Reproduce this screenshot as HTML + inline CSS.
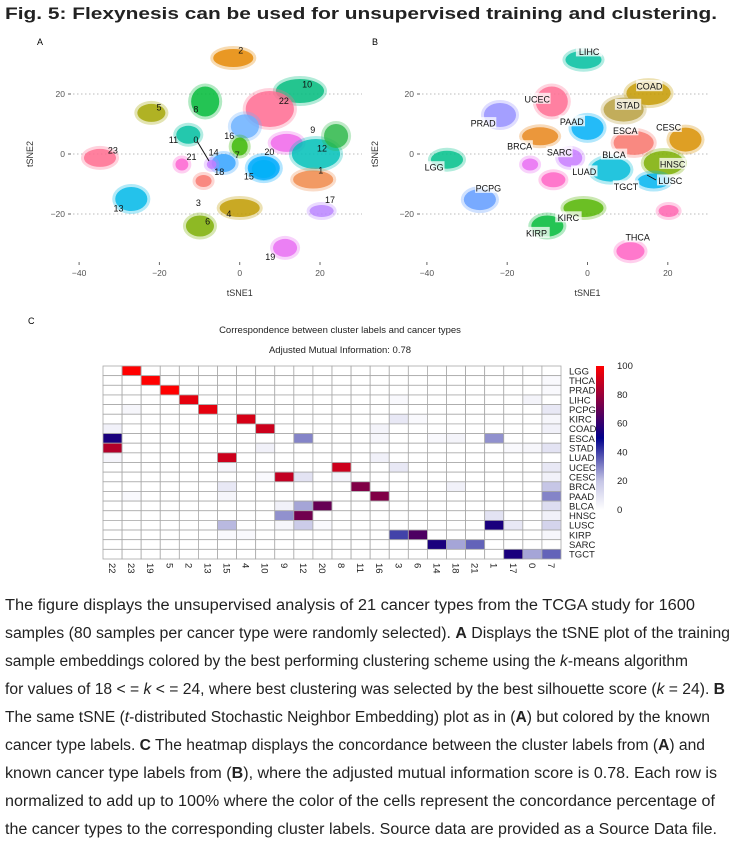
<!DOCTYPE html>
<html><head><meta charset="utf-8"><style>
html,body{margin:0;padding:0;background:#fff;width:734px;height:848px;overflow:hidden}
svg{display:block;font-family:"Liberation Sans",sans-serif}
</style></head><body>
<svg id="fig" width="734" height="848" viewBox="0 0 734 848" xmlns="http://www.w3.org/2000/svg">
<text x="5" y="19" font-size="17" font-weight="bold" fill="#222" textLength="712" lengthAdjust="spacingAndGlyphs">Fig. 5: Flexynesis can be used for unsupervised training and clustering.</text>
<text x="37" y="45" font-size="9">A</text>
<text x="372" y="45" font-size="9">B</text>
<text x="28" y="324" font-size="9">C</text>
<g id="pa"></g>
<g id="pb"></g>
<text x="340" y="333" font-size="9.5" text-anchor="middle" fill="#222">Correspondence between cluster labels and cancer types</text>
<text x="340" y="353" font-size="9.5" text-anchor="middle" fill="#222">Adjusted Mutual Information: 0.78</text>
<g id="hm"></g>
<defs><linearGradient id="cb" x1="0" y1="1" x2="0" y2="0">
<stop offset="0" stop-color="#ffffff"/><stop offset="0.2" stop-color="#c6c6e6"/><stop offset="0.5" stop-color="#00008b"/><stop offset="0.75" stop-color="#800046"/><stop offset="1" stop-color="#ff0000"/></linearGradient></defs>
<g font-size="15.5" fill="#222">
<text x="5" y="610" textLength="690" lengthAdjust="spacingAndGlyphs">The figure displays the unsupervised analysis of 21 cancer types from the TCGA study for 1600</text>
<text x="5" y="638" textLength="725" lengthAdjust="spacingAndGlyphs">samples (80 samples per cancer type were randomly selected). <tspan font-weight="bold">A</tspan> Displays the tSNE plot of the training</text>
<text x="5" y="666" textLength="683" lengthAdjust="spacingAndGlyphs">sample embeddings colored by the best performing clustering scheme using the <tspan font-style="italic">k</tspan>-means algorithm</text>
<text x="5" y="694" textLength="720" lengthAdjust="spacingAndGlyphs">for values of 18 &lt; = <tspan font-style="italic">k</tspan> &lt; = 24, where best clustering was selected by the best silhouette score (<tspan font-style="italic">k</tspan> = 24). <tspan font-weight="bold">B</tspan></text>
<text x="5" y="722" textLength="705" lengthAdjust="spacingAndGlyphs">The same tSNE (<tspan font-style="italic">t</tspan>-distributed Stochastic Neighbor Embedding) plot as in (<tspan font-weight="bold">A</tspan>) but colored by the known</text>
<text x="5" y="750" textLength="700" lengthAdjust="spacingAndGlyphs">cancer type labels. <tspan font-weight="bold">C</tspan> The heatmap displays the concordance between the cluster labels from (<tspan font-weight="bold">A</tspan>) and</text>
<text x="5" y="778" textLength="712" lengthAdjust="spacingAndGlyphs">known cancer type labels from (<tspan font-weight="bold">B</tspan>), where the adjusted mutual information score is 0.78. Each row is</text>
<text x="5" y="806" textLength="710" lengthAdjust="spacingAndGlyphs">normalized to add up to 100% where the color of the cells represent the concordance percentage of</text>
<text x="5" y="834" textLength="712" lengthAdjust="spacingAndGlyphs">the cancer types to the corresponding cluster labels. Source data are provided as a Source Data file.</text>
</g>
</svg>
<script>
const NS="http://www.w3.org/2000/svg";
function mk(tag,attrs,parent){const e=document.createElementNS(NS,tag);for(const k in attrs)e.setAttribute(k,attrs[k]);parent.appendChild(e);return e;}

// ---- Panel A data: cluster centers (tSNE units) ----
const aIds=["2","10","22","8","5","16","11","9","12","12b","7","20","14","1","23","21","18","13","17","4","6","19","0","15"];
const aCx=[-1.6,15,7.5,-8.6,-22,1.3,-12.8,11.7,19,24,0,6,-4,18.3,-34.8,-14.4,-7,-27,20.4,0,-9.9,11.3,-9,6];
const aCy=[32,21,15,17.5,13.7,9.2,6.4,3.7,0,6,2.5,-4.7,-3,-8.5,-1.3,-3.5,-3.5,-15,-19,-18,-24,-31.3,-9,-5];
const aRx=[5,6,6,3.5,3.5,3.5,3,4,6,3,2,4,3,5,4,1.6,1.2,4,3,5,3.5,3,2,3];
const aRy=[3,4,6,5,3,4,3,3,5,4,3,4,3,3,3,2,1.5,4,2,3,3.5,3,2,3];
const aCol=["#E58700","#00BC7D","#FF6C91","#00BA38","#A3A500","#6BB1FF","#00BFA0","#F066EA","#00C0B8","#2DB84A","#39B600","#00A9FF","#35A2FF","#F08A4B","#FF6B8E","#FD61D1","#C77CFF","#00B8E7","#B983FF","#C09B00","#7CAE00","#E76BF3","#F8766D","#00B0F6"];
const aLab=["2","10","22","8","5","16","11","0","9","12","14","7","20","21","18","15","1","23","17","13","3","4","6","19"];
const aLx=[0.25,16.8,11,-10.9,-20.1,-2.6,-16.5,-10.9,18.2,20.5,-6.5,-0.6,7.4,-12,-5.1,2.3,20.2,-31.6,22.5,-30.2,-10.3,-2.7,-8,7.6];
const aLy=[34.6,23.4,17.8,15,15.6,6.1,4.8,4.8,8.1,2,0.6,-0.2,0.9,-0.8,-5.8,-7.4,-5.4,1.4,-15.2,-18,-16.1,-19.9,-22.4,-34.1];

// ---- Panel B data ----
const bIds=["LIHC","COAD","STAD","UCEC","PRAD","PAAD","BRCA","ESCA","CESC","HNSC","SARC","LUAD","pink","BLCA","LUSC","LGG","PCPG","KIRC","KIRP","THCA","TGCTp"];
const bCx=[-1,15.2,9,-8.9,-21.8,0,-11.8,11.5,24.4,19,-4.3,-14.3,-8.5,5.7,16.5,-35,-26.8,-1,-10,10.7,20.2];
const bCy=[31.4,20.3,14.8,17.5,13,8.7,5.9,3.7,4.8,-3,-1.3,-3.5,-8.6,-5.2,-9,-1.9,-15.2,-18,-24,-32.4,-19];
const bRx=[4.5,5.5,5,4,4,4,4.5,5,4,5,3,2,3,5,4,4,4,5,4,3.5,2.5];
const bRy=[3,4,4,5,4,4,3,4,4,4,3,2,2.5,4,2.5,3,3.5,3,3.5,3,2];
const bCol=["#00BFA0","#C49A00","#B8A040","#FF6C91","#9590FF","#00B0F6","#E7861B","#F8766D","#D89000","#7CAE00","#C77CFF","#E76BF3","#FF61C3","#00BCD8","#00B4F0","#00C08B","#619CFF","#53B400","#00BA38","#FF61C3","#FF64B0"];
const bLab=["LIHC","COAD","STAD","UCEC","PRAD","PAAD","ESCA","CESC","BRCA","SARC","BLCA","HNSC","LUAD","LUSC","TGCT","LGG","PCPG","KIRC","KIRP","THCA"];
const bLx=[0.4,15.4,10.1,-12.5,-26,-3.9,9.4,20.2,-16.9,-7,6.6,21.2,-0.8,20.6,9.6,-38.2,-24.7,-4.75,-12.7,12.5];
const bLy=[34.2,22.6,16.4,18.4,10.3,10.9,7.9,9,2.6,0.6,-0.2,-3.3,-5.8,-8.8,-10.8,-4.4,-11.3,-21.1,-26.3,-27.6];

const xTicks=[-40,-20,0,20];
const yTicks=[20,0,-20];

function scatter(g,x0,gl,gr,ylabX,ids,cx,cy,rx,ry,col,lab,lx,ly,boxed){
  const sx=v=>x0+v*4.015, sy=v=>154-v*3.0;
  yTicks.forEach(t=>{
    const l=mk("line",{x1:gl,x2:gr,y1:sy(t),y2:sy(t),stroke:"#bbb","stroke-dasharray":"1.5,2.5","stroke-width":1},g);
    
    
    const tk=mk("line",{x1:gl-5,x2:gl-2,y1:sy(t),y2:sy(t),stroke:"#666"},g);
    
    
    const tx=mk("text",{x:gl-8,y:sy(t)+3,"font-size":8.5,"text-anchor":"end",fill:"#555"},g);
    tx.textContent=t===0?"0":(t<0?"\u2212"+(-t):t);
    
    
  });
  xTicks.forEach(t=>{
    const tk=mk("line",{x1:sx(t),x2:sx(t),y1:262,y2:265,stroke:"#666"},g);
    
    
    const tx=mk("text",{x:sx(t),y:276,"font-size":8.5,"text-anchor":"middle",fill:"#555"},g);
    tx.textContent=t<0?"\u2212"+(-t):t;
    
    
  });
  const xl=mk("text",{x:sx(0),y:296,"font-size":9,"text-anchor":"middle",fill:"#333"},g);
  xl.textContent="tSNE1";
  
  
  const yl=mk("text",{x:ylabX,y:154,"font-size":9,"text-anchor":"middle",fill:"#333",transform:`rotate(-90 ${ylabX} 154)`},g);
  yl.textContent="tSNE2";
  
  
  ids.forEach((id,i)=>{
    const h=mk("ellipse",{cx:sx(cx[i]),cy:sy(cy[i]),rx:rx[i]*4.015+3,ry:ry[i]*3+3,fill:col[i],opacity:0.3},g);
    
    
    const e=mk("ellipse",{cx:sx(cx[i]),cy:sy(cy[i]),rx:rx[i]*4.015,ry:ry[i]*3,fill:col[i],opacity:0.8},g);
    
    
  });
  lab.forEach((s,i)=>{
    if(boxed){
      const w=s.length*5.6+4;
      const r=mk("rect",{x:sx(lx[i])-w/2,y:sy(ly[i])-6,width:w,height:11,fill:"#fff",opacity:0.75},g);
      
      
    }
    const t=mk("text",{x:sx(lx[i]),y:sy(ly[i])+3.5,"font-size":9,"text-anchor":"middle",fill:"#111"},g);
    t.textContent=s;
    
    
  });
}
scatter(document.getElementById("pa"),239.7,73,362,33,aIds,aCx,aCy,aRx,aRy,aCol,aLab,aLx,aLy,false);
scatter(document.getElementById("pb"),587.5,422,710,378,bIds,bCx,bCy,bRx,bRy,bCol,bLab,bLx,bLy,true);
// connector lines
(function(){const g=document.getElementById("pa");const l=mk("line",{x1:197,y1:141,x2:209,y2:161,stroke:"#111","stroke-width":1},g);
const g2=document.getElementById("pb");const l2=mk("line",{x1:647,y1:175,x2:656,y2:180,stroke:"#111","stroke-width":1},g2);})();

// ---- Heatmap data ----
const hmCols=["22","23","19","5","2","13","15","4","10","9","12","20","8","11","16","3","6","14","18","21","1","17","0","7"];
const hmRows=["LGG","THCA","PRAD","LIHC","PCPG","KIRC","COAD","ESCA","STAD","LUAD","UCEC","CESC","BRCA","PAAD","BLCA","HNSC","LUSC","KIRP","SARC","TGCT"];
const hmEntries={
 LGG:{"23":100},
 THCA:{"19":100,"7":2},
 PRAD:{"5":100,"7":2},
 LIHC:{"2":95,"3":2,"0":4},
 PCPG:{"13":95,"23":3,"7":8},
 KIRC:{"4":92,"3":8,"6":2,"7":3},
 COAD:{"10":90,"22":5,"16":4,"7":5},
 ESCA:{"22":55,"12":30,"1":28,"16":3,"18":4,"14":2},
 STAD:{"22":85,"10":5,"7":10,"17":2,"0":3},
 LUAD:{"15":90,"22":4,"16":5},
 UCEC:{"8":90,"3":8,"15":3,"7":8},
 CESC:{"9":88,"12":10,"8":4,"7":5,"10":2},
 BRCA:{"11":75,"15":8,"7":20,"18":5},
 PAAD:{"16":75,"7":30,"23":2,"15":3},
 BLCA:{"20":70,"12":25,"9":5,"7":12},
 HNSC:{"12":72,"9":28,"1":10,"7":5},
 LUSC:{"1":55,"15":22,"12":18,"17":8,"7":15,"9":3,"20":2},
 KIRP:{"3":40,"6":65,"7":3,"15":2,"4":2},
 SARC:{"14":55,"18":25,"21":35},
 TGCT:{"17":55,"0":25,"7":35}
};
const cbTicks=[100,80,60,40,20,0];

function colorOf(v){
  const stops=[[0,[255,255,255]],[20,[198,198,230]],[50,[0,0,139]],[75,[128,0,70]],[100,[255,0,0]]];
  for(let i=1;i<stops.length;i++){if(v<=stops[i][0]){const a=stops[i-1],b=stops[i];const t=(v-a[0])/(b[0]-a[0]);return "rgb("+a[1].map((c,k)=>Math.round(c+(b[1][k]-c)*t)).join(",")+")";}}
  return "rgb(255,0,0)";
}
(function(){
  const g=document.getElementById("hm");
  const X0=103,Y0=366,W=458,H=193;
  const cw=W/hmCols.length, rh=H/hmRows.length;
  hmRows.forEach((r,ri)=>{
    hmCols.forEach((c,ci)=>{
      const v=(hmEntries[r]&&hmEntries[r][c])||0;
      const rc=mk("rect",{x:X0+ci*cw,y:Y0+ri*rh,width:cw,height:rh,fill:colorOf(v),stroke:"#a8a8a8","stroke-width":0.8},g);
      
      
    });
    const t=mk("text",{x:X0+W+8,y:Y0+ri*rh+rh/2+3.5,"font-size":9.5,fill:"#222"},g);
    t.textContent=r;
    
    
  });
  hmCols.forEach((c,ci)=>{
    const x=X0+ci*cw+cw/2-3.5, y=Y0+H+4;
    const t=mk("text",{x:x,y:y,"font-size":9.5,fill:"#222",transform:`rotate(90 ${x} ${y})`},g);
    t.textContent=c;
    
    
  });
  const cbY0=366,cbY1=510;
  const cb=mk("rect",{x:596,y:cbY0,width:8,height:cbY1-cbY0,fill:"url(#cb)"},g);
  
  
  cbTicks.forEach(v=>{
    const y=cbY1-(cbY1-cbY0)*v/100;
    const t=mk("text",{x:617,y:y+3,"font-size":9.5,fill:"#222"},g);
    t.textContent=v;
    
    
  });
})();
</script>
</body></html>
